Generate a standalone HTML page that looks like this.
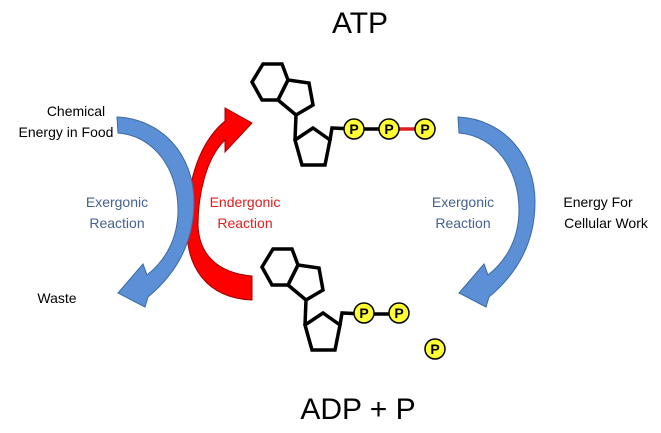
<!DOCTYPE html>
<html><head><meta charset="utf-8"><style>
html,body{margin:0;padding:0;background:#fff;}
svg{display:block;font-family:"Liberation Sans",sans-serif;}
</style></head><body>
<svg width="661" height="433" viewBox="0 0 661 433">
<text x="360" y="33" font-size="30" text-anchor="middle">ATP</text>
<text x="358" y="419" font-size="30" text-anchor="middle">ADP + P</text>

<path d="M252,300 C205,298 187,265 187,230 C186,190 196,145 225,121 L225,108 L252,123 L225,152 L225,140 C206,158 198,195 198,225 C199,255 218,273 252,276 Z" fill="#ff0000" stroke="#a00000" stroke-width="1"/>

<g>
<path d="M117,117 C162,119 194,155 194,202 C194,240 178,272 148,297 L145,307 L118,293 L143,264 L147,275 C166,260 178,238 178,210 C178,170 155,136 118,133 Z" fill="#5b8fd6" stroke="#3d6aa3" stroke-width="1"/>
</g>
<g transform="translate(341,0)">
<path d="M117,117 C162,119 194,155 194,202 C194,240 178,272 148,297 L145,307 L118,293 L143,264 L147,275 C166,260 178,238 178,210 C178,170 155,136 118,133 Z" fill="#5b8fd6" stroke="#3d6aa3" stroke-width="1"/>
</g>

<g fill="none" stroke="#000" stroke-width="3.5" stroke-linejoin="miter">
<polygon points="252,82 263,64 282,64 288,80 278,100 262,100"/>
<polygon points="288,80 309,83 313,105 296,115 278,100"/>
<polyline points="296,115 295,140"/>
<polygon points="295,140 313,128 330,140 325,165 302,165"/>
<polyline points="330,140 332,128 354,129"/>
<line x1="354" y1="129" x2="389" y2="129"/>
<line x1="389" y1="129" x2="425" y2="129" stroke="#e02020"/>
</g>
<g font-size="14" font-weight="bold" text-anchor="middle">
<circle cx="354" cy="129" r="10" fill="#ffff33" stroke="#000" stroke-width="1.5"/><text x="354" y="134">P</text>
<circle cx="389" cy="129" r="10" fill="#ffff33" stroke="#000" stroke-width="1.5"/><text x="389" y="134">P</text>
<circle cx="425" cy="129" r="10" fill="#ffff33" stroke="#000" stroke-width="1.5"/><text x="425" y="134">P</text>
</g>

<g transform="translate(10,185)" fill="none" stroke="#000" stroke-width="3.5">
<polygon points="252,82 263,64 282,64 288,80 278,100 262,100"/>
<polygon points="288,80 309,83 313,105 296,115 278,100"/>
<polyline points="296,115 295,140"/>
<polygon points="295,140 313,128 330,140 325,165 302,165"/>
<polyline points="330,140 332,128 354,129"/>
<line x1="354" y1="129" x2="389" y2="129"/>
</g>
<g font-size="14" font-weight="bold" text-anchor="middle">
<circle cx="364" cy="313" r="10" fill="#ffff33" stroke="#000" stroke-width="1.5"/><text x="364" y="318">P</text>
<circle cx="399" cy="313" r="10" fill="#ffff33" stroke="#000" stroke-width="1.5"/><text x="399" y="318">P</text>
<circle cx="435" cy="349" r="10" fill="#ffff33" stroke="#000" stroke-width="1.5"/><text x="435" y="354">P</text>
</g>

<g font-size="14" text-anchor="middle">
<text x="76" y="116"><tspan x="76">Chemical</tspan><tspan x="66" dy="21">Energy in Food</tspan></text>
<text x="57" y="303">Waste</text>
<text x="117" y="207" fill="#44618f"><tspan x="117">Exergonic</tspan><tspan x="117" dy="21">Reaction</tspan></text>
<text x="245" y="207" fill="#e02020"><tspan x="245">Endergonic</tspan><tspan x="245" dy="21">Reaction</tspan></text>
<text x="463" y="207" fill="#44618f"><tspan x="463">Exergonic</tspan><tspan x="463" dy="21">Reaction</tspan></text>
<text x="604" y="207"><tspan x="598">Energy For</tspan><tspan x="606" dy="21">Cellular Work</tspan></text>
</g>
</svg>
</body></html>
